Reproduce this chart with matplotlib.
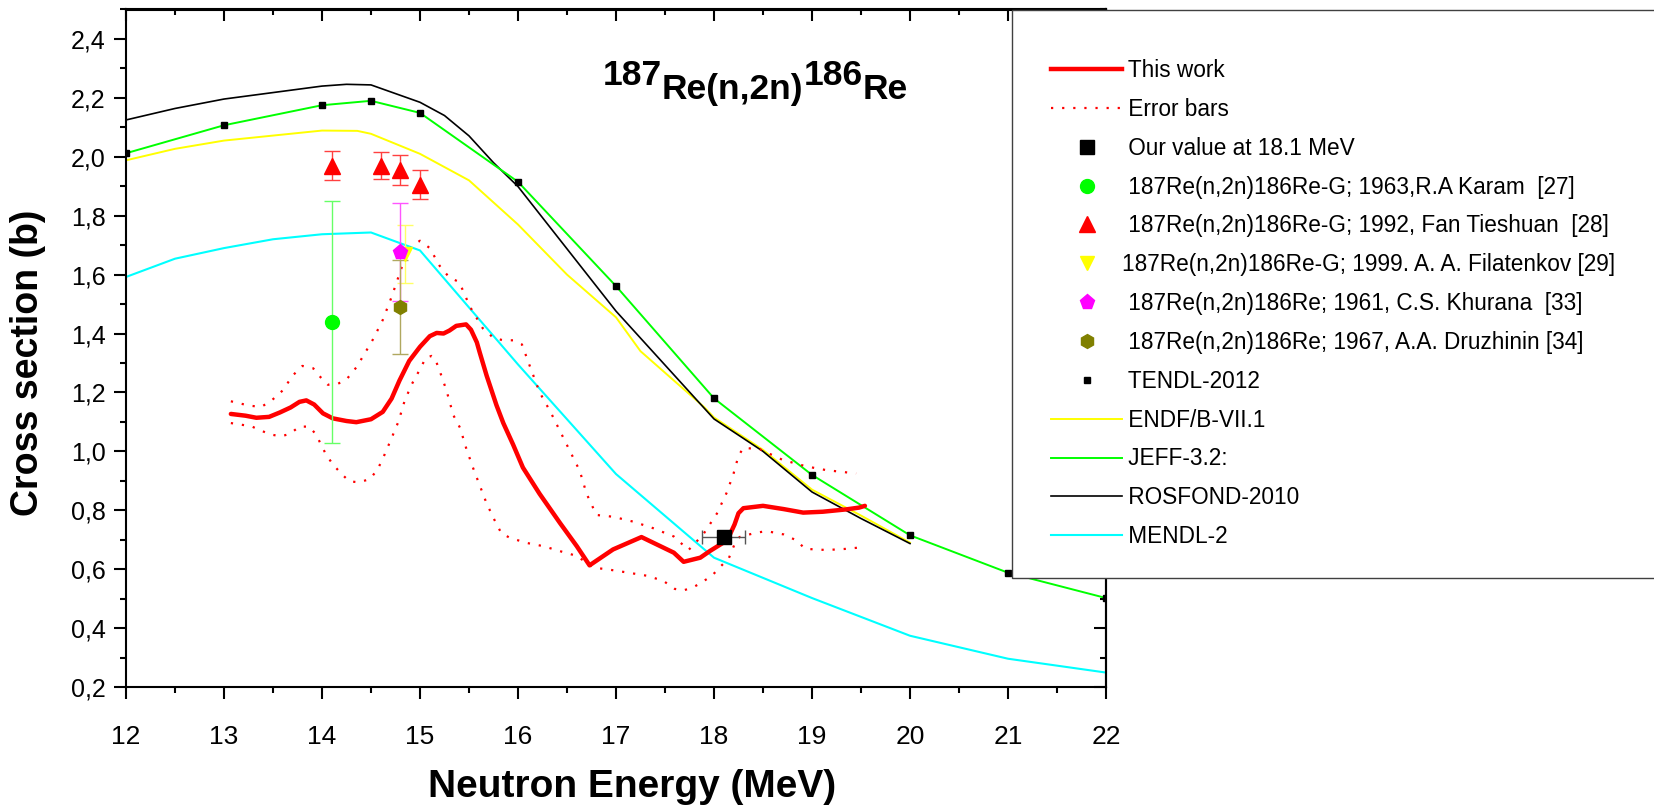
import matplotlib
matplotlib.use('Agg')
import matplotlib.pyplot as plt
from matplotlib.lines import Line2D
from matplotlib.patches import Rectangle
from matplotlib.ticker import MultipleLocator, FuncFormatter

plt.rcParams['font.family'] = ['Liberation Sans', 'DejaVu Sans']

W, H = 1654, 808

# evaluated libraries
tendl_e = [12, 13, 14, 14.5, 15, 16, 17, 18, 19, 20, 21, 22]
tendl_v = [2.012, 2.107, 2.175, 2.19, 2.149, 1.915, 1.561, 1.18, 0.92, 0.715, 0.588, 0.502]
jeff_e = [12, 13, 14, 14.5, 15, 16, 17, 18, 19, 20, 21, 22]
jeff_v = [2.012, 2.107, 2.175, 2.19, 2.149, 1.915, 1.561, 1.18, 0.92, 0.715, 0.588, 0.502]
rosfond_e = [12, 12.5, 13, 14, 14.25, 14.5, 15, 15.25, 15.5, 15.75, 16, 17, 18, 18.5, 19, 19.5, 20]
rosfond_v = [2.125, 2.164, 2.196, 2.24, 2.246, 2.244, 2.185, 2.14, 2.071, 1.98, 1.899, 1.476,
             1.11, 1.0, 0.862, 0.772, 0.687]
endf_e = [12, 12.5, 13, 14, 14.36, 14.5, 15, 15.5, 16, 16.5, 17, 17.25, 17.9, 18, 18.5, 19, 19.5, 20]
endf_v = [1.988, 2.027, 2.055, 2.089, 2.088, 2.078, 2.01, 1.92, 1.77, 1.60, 1.455, 1.34, 1.15,
          1.115, 1.005, 0.87, 0.782, 0.69]
mendl_e = [12, 12.5, 13, 13.5, 14, 14.5, 15, 16, 17, 18, 19, 20, 21, 22]
mendl_v = [1.592, 1.654, 1.69, 1.72, 1.737, 1.743, 1.682, 1.295, 0.923, 0.639, 0.502, 0.374, 0.296, 0.249]

# this work + error band
work_e = [13.07, 13.22, 13.33, 13.46, 13.57, 13.68, 13.77, 13.84, 13.92, 14.01, 14.11, 14.25,
          14.35, 14.5, 14.62, 14.71, 14.79, 14.89, 15.0, 15.1, 15.17, 15.24, 15.3, 15.37, 15.47,
          15.52, 15.58, 15.61, 15.68, 15.78, 15.85, 15.95, 16.05, 16.22, 16.43, 16.6, 16.73,
          16.97, 17.26, 17.59, 17.69, 17.86, 17.96, 18.1, 18.16, 18.21, 18.25, 18.3, 18.5,
          18.71, 18.91, 19.11, 19.35, 19.48, 19.54]
work_v = [1.127, 1.121, 1.114, 1.117, 1.132, 1.149, 1.168, 1.173, 1.159, 1.129, 1.112, 1.103,
          1.099, 1.109, 1.134, 1.179, 1.24, 1.307, 1.355, 1.391, 1.402, 1.4, 1.41, 1.426, 1.431,
          1.413, 1.37, 1.335, 1.257, 1.157, 1.096, 1.023, 0.945, 0.856, 0.756, 0.678, 0.613,
          0.667, 0.709, 0.656, 0.625, 0.639, 0.662, 0.691, 0.716, 0.752, 0.79, 0.807, 0.815,
          0.804, 0.792, 0.795, 0.803, 0.809, 0.815]
up_e = [13.07, 13.26, 13.38, 13.48, 13.6, 13.7, 13.8, 13.91, 13.97, 14.06, 14.16, 14.25, 14.35,
        14.43, 14.52, 14.62, 14.71, 14.79, 14.86, 14.93, 15.0, 15.1, 15.2, 15.3, 15.4, 15.51,
        15.64, 15.75, 15.85, 15.95, 16.04, 16.12, 16.22, 16.33, 16.43, 16.53, 16.63, 16.7, 16.8,
        16.97, 17.18, 17.38, 17.59, 17.74, 17.89, 18.03, 18.13, 18.2, 18.25, 18.3, 18.47, 18.7,
        18.94, 19.15, 19.45]
up_v = [1.17, 1.155, 1.151, 1.171, 1.207, 1.257, 1.29, 1.282, 1.257, 1.226, 1.229, 1.244, 1.285,
        1.329, 1.38, 1.446, 1.524, 1.602, 1.669, 1.70, 1.715, 1.69, 1.63, 1.59, 1.575, 1.491,
        1.418, 1.385, 1.377, 1.377, 1.363, 1.29, 1.201, 1.135, 1.068, 1.001, 0.934, 0.856, 0.784,
        0.778, 0.761, 0.739, 0.711, 0.665, 0.718, 0.789, 0.86, 0.925, 0.985, 1.012, 1.007, 0.971,
        0.949, 0.936, 0.925]
lo_e = [13.07, 13.28, 13.38, 13.48, 13.58, 13.67, 13.77, 13.87, 13.94, 13.99, 14.04, 14.11, 14.2,
        14.28, 14.38, 14.49, 14.57, 14.64, 14.71, 14.78, 14.84, 14.91, 15.0, 15.06, 15.12, 15.15,
        15.2, 15.27, 15.34, 15.41, 15.47, 15.54, 15.61, 15.68, 15.76, 15.83, 15.92, 16.09, 16.26,
        16.43, 16.6, 16.77, 16.9, 17.11, 17.31, 17.48, 17.6, 17.69, 17.79, 17.86, 17.98, 18.06,
        18.15, 18.21, 18.26, 18.43, 18.54, 18.71, 18.84, 18.93, 19.15, 19.35, 19.5]
lo_v = [1.096, 1.085, 1.07, 1.057, 1.051, 1.059, 1.084, 1.084, 1.057, 1.023, 0.99, 0.956, 0.923,
        0.898, 0.895, 0.906, 0.94, 0.99, 1.045, 1.101, 1.168, 1.224, 1.279, 1.318, 1.324, 1.318,
        1.274, 1.207, 1.123, 1.079, 1.012, 0.945, 0.884, 0.823, 0.767, 0.722, 0.706, 0.689, 0.678,
        0.661, 0.645, 0.605, 0.6, 0.589, 0.578, 0.561, 0.533, 0.528, 0.539, 0.552, 0.578, 0.607,
        0.636, 0.685, 0.709, 0.724, 0.729, 0.718, 0.698, 0.669, 0.665, 0.669, 0.674]

# experimental points
our_e, our_v, our_xerr = [18.1], [0.71], [0.22]
karam_e, karam_v, karam_err = [14.1], [1.44], [0.41]
fan_e = [14.1, 14.6, 14.8, 15.0]
fan_v = [1.97, 1.97, 1.955, 1.905]
fan_err = [0.05, 0.045, 0.05, 0.05]
filat_e, filat_v, filat_err = [14.85], [1.67], [0.1]
khur_e, khur_v, khur_err = [14.8], [1.676], [0.167]
druz_e, druz_v, druz_err = [14.8], [1.49], [0.16]

labels = [' This work', ' Error bars', ' Our value at 18.1 MeV',
          ' 187Re(n,2n)186Re-G; 1963,R.A Karam  [27]',
          ' 187Re(n,2n)186Re-G; 1992, Fan Tieshuan  [28]',
          '187Re(n,2n)186Re-G; 1999. A. A. Filatenkov [29]',
          ' 187Re(n,2n)186Re; 1961, C.S. Khurana  [33]',
          ' 187Re(n,2n)186Re; 1967, A.A. Druzhinin [34]',
          ' TENDL-2012', ' ENDF/B-VII.1', ' JEFF-3.2:', ' ROSFOND-2010', ' MENDL-2']

fig = plt.figure(figsize=(W / 100, H / 100), dpi=100)
ax = fig.add_axes([126 / W, 1 - 687 / H, (1106 - 126) / W, (687 - 9.5) / H])

ax.plot(mendl_e, mendl_v, color='#00ffff', lw=1.5)
ax.plot(endf_e, endf_v, color='#ffff00', lw=1.4)
ax.plot(rosfond_e, rosfond_v, color='black', lw=1.2)
ax.plot(jeff_e, jeff_v, color='#00ff00', lw=1.4)
ax.plot(tendl_e, tendl_v, 's', color='black', ms=5)

dot = (0, (1, 4))
ax.plot(up_e, up_v, color='red', lw=1.6, ls=dot)
ax.plot(lo_e, lo_v, color='red', lw=1.6, ls=dot)
ax.plot(work_e, work_v, color='red', lw=3.2, solid_capstyle='round')

ax.errorbar(karam_e, karam_v, yerr=karam_err, fmt='o', color='#00ff00', ms=10,
            ecolor='#66ff66', elinewidth=1, capsize=5.5, capthick=1)
ax.errorbar(fan_e, fan_v, yerr=fan_err, fmt='^', color='red', ms=11,
            ecolor='#ff4040', elinewidth=1, capsize=6, capthick=1)
ax.errorbar(filat_e, filat_v, yerr=filat_err, fmt='v', color='#ffff00', ms=10,
            ecolor='#ffff66', elinewidth=1, capsize=5.5, capthick=1)
ax.errorbar(khur_e, khur_v, yerr=khur_err, fmt='p', color='#ff00ff', ms=11,
            ecolor='#ff55ff', elinewidth=1, capsize=5.5, capthick=1)
ax.errorbar(druz_e, druz_v, yerr=druz_err, fmt='h', color='#808000', ms=10,
            ecolor='#b0a860', elinewidth=1, capsize=5.5, capthick=1)
ax.errorbar(our_e, our_v, xerr=our_xerr, fmt='s', color='black', ms=10,
            ecolor='#555555', elinewidth=1, capsize=5, capthick=1, zorder=5)

ax.set_xlim(12, 22)
ax.set_ylim(0.2, 2.5)
ax.xaxis.set_major_locator(MultipleLocator(1))
ax.xaxis.set_minor_locator(MultipleLocator(0.5))
ax.yaxis.set_major_locator(MultipleLocator(0.2))
ax.yaxis.set_minor_locator(MultipleLocator(0.1))
ax.yaxis.set_major_formatter(FuncFormatter(lambda v, p: f'{v:.1f}'.replace('.', ',')))
ax.tick_params(which='both', direction='out', width=1.5, top=False, right=False)
ax.tick_params(which='major', length=8.5)
ax.tick_params(which='minor', length=4.5)
ax.tick_params(axis='x', pad=19, labelsize=19)
ax.tick_params(axis='y', pad=6, labelsize=18)
for s in ax.spines.values():
    s.set_linewidth(1.5)

# mirrored axes with inward ticks (Origin style)
top = ax.secondary_xaxis('top')
top.xaxis.set_major_locator(MultipleLocator(1))
top.xaxis.set_minor_locator(MultipleLocator(0.5))
top.tick_params(which='both', direction='in', width=1.5, labeltop=False)
top.tick_params(which='major', length=8.5)
top.tick_params(which='minor', length=4.5)
top.spines['top'].set_linewidth(1.5)
right = ax.secondary_yaxis('right')
right.yaxis.set_major_locator(MultipleLocator(0.2))
right.yaxis.set_minor_locator(MultipleLocator(0.1))
right.tick_params(which='both', direction='in', width=1.5, labelright=False)
right.tick_params(which='major', length=8.5)
right.tick_params(which='minor', length=4.5)
right.spines['right'].set_linewidth(1.5)

fig.text(28 / W, 1 - 363 / H, 'Cross section (b)', rotation=90, fontsize=27,
         fontweight='bold', ha='center', va='center')
fig.text(632 / W, 1 - 797 / H, 'Neutron Energy (MeV)', fontsize=28,
         fontweight='bold', ha='center', va='baseline')

# title with full-size raised mass numbers
renderer = fig.canvas.get_renderer()
x = 603
for txt, lift in [('187', 14), ('Re(n,2n)', 0), ('186', 14), ('Re', 0)]:
    t = fig.text(x / W, 1 - (99 - lift) / H, txt, fontsize=25.5, fontweight='bold',
                 ha='left', va='baseline')
    x += t.get_window_extent(renderer).width

# legend box, cut by the image edge
fig.patches.append(Rectangle((1012 / W, 1 - 578 / H), 1.0, (578 - 9.5) / H,
                             transform=fig.transFigure, facecolor='white',
                             edgecolor='#404040', lw=1.0, zorder=4))

handles = [
    Line2D([], [], color='red', lw=3.2),
    Line2D([], [], color='red', lw=1.6, ls=dot),
    Line2D([], [], ls='none', marker='s', color='black', ms=10),
    Line2D([], [], ls='none', marker='o', color='#00ff00', ms=10),
    Line2D([], [], ls='none', marker='^', color='red', ms=11),
    Line2D([], [], ls='none', marker='v', color='#ffff00', ms=10),
    Line2D([], [], ls='none', marker='p', color='#ff00ff', ms=11),
    Line2D([], [], ls='none', marker='h', color='#808000', ms=10),
    Line2D([], [], ls='none', marker='s', color='black', ms=5),
    Line2D([], [], color='#ffff00', lw=1.4),
    Line2D([], [], color='#00ff00', lw=1.4),
    Line2D([], [], color='black', lw=1.2),
    Line2D([], [], color='#00ffff', lw=1.5),
]
leg = fig.legend(handles, labels, loc='upper left', bbox_to_anchor=(1051 / W, 1 - 59 / H),
                 frameon=False, fontsize=16.3, borderpad=0, borderaxespad=0,
                 handlelength=3.15, handletextpad=0.0, labelspacing=0.70)
leg.set_zorder(6)

fig.savefig('out.png', dpi=100)
